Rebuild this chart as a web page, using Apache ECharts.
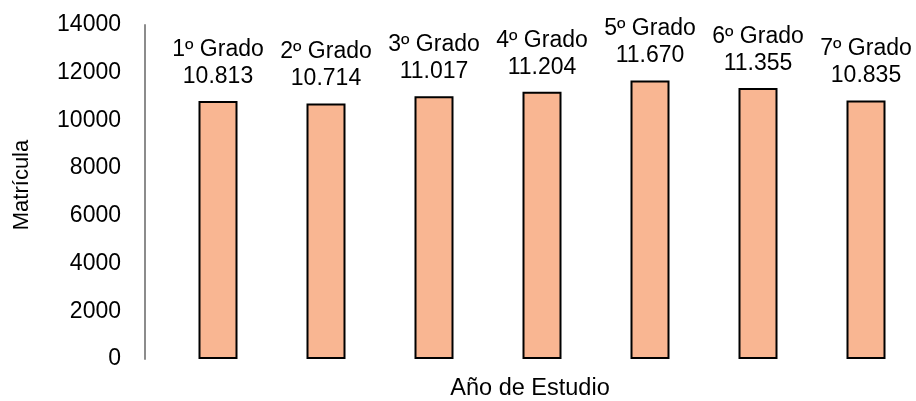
<!DOCTYPE html>
<html><head><meta charset="utf-8">
<script src="https://cdn.jsdelivr.net/npm/echarts@6/dist/echarts.min.js"></script>
<style>html,body{margin:0;padding:0;background:#fff}#c{width:916px;height:401px}</style>
</head><body><div id="c"></div>
<script>
const categories = ['1º Grado','2º Grado','3º Grado','4º Grado','5º Grado','6º Grado','7º Grado'];
const values = [10813, 10714, 11017, 11204, 11670, 11355, 10835];
const yTicks = [0, 2000, 4000, 6000, 8000, 10000, 12000, 14000];
const xName = 'Año de Estudio';
const yName = 'Matrícula';

function fmt(v){ return String(v).replace(/\B(?=(\d{3})+(?!\d))/g, '.'); }
const FONT = "'Liberation Sans', Arial, sans-serif";
const chart = echarts.init(document.getElementById('c'), null, {renderer:'canvas'});
chart.setOption({
  animation:false,
  grid:{left:164, right:-4, top:25, bottom:42, containLabel:false, outerBoundsMode:'none'},
  xAxis:{type:'category', data:categories,
    axisLine:{show:false}, axisTick:{show:false}, axisLabel:{show:false},
    name:xName, nameLocation:'middle', nameGap:18,
    nameTextStyle:{fontFamily:FONT, fontSize:23.5, color:'#000', padding:[0,24,0,0]}},
  yAxis:{type:'value', min:yTicks[0], max:yTicks[yTicks.length-1], interval:2000, offset:19,
    splitLine:{show:false},
    axisLine:{show:true, lineStyle:{color:'#8c8c8c', width:2}},
    axisTick:{show:false},
    axisLabel:{fontFamily:FONT, fontSize:23, color:'#000', margin:24, formatter:v=>String(v)},
    name:yName, nameLocation:'middle', nameGap:112, nameRotate:90,
    nameTextStyle:{fontFamily:FONT, fontSize:22, color:'#000', padding:[0,0,0,14]}},
  series:[{type:'bar', data:values, barWidth:39,
    itemStyle:{color:'#F9B692', borderColor:'#000', borderWidth:2},
    label:{show:true, position:'top', distance:11,
      formatter:p=>p.name+'\n'+fmt(p.value),
      fontFamily:FONT, fontSize:23, color:'#000', lineHeight:27, align:'center'}}]
});
</script></body></html>
